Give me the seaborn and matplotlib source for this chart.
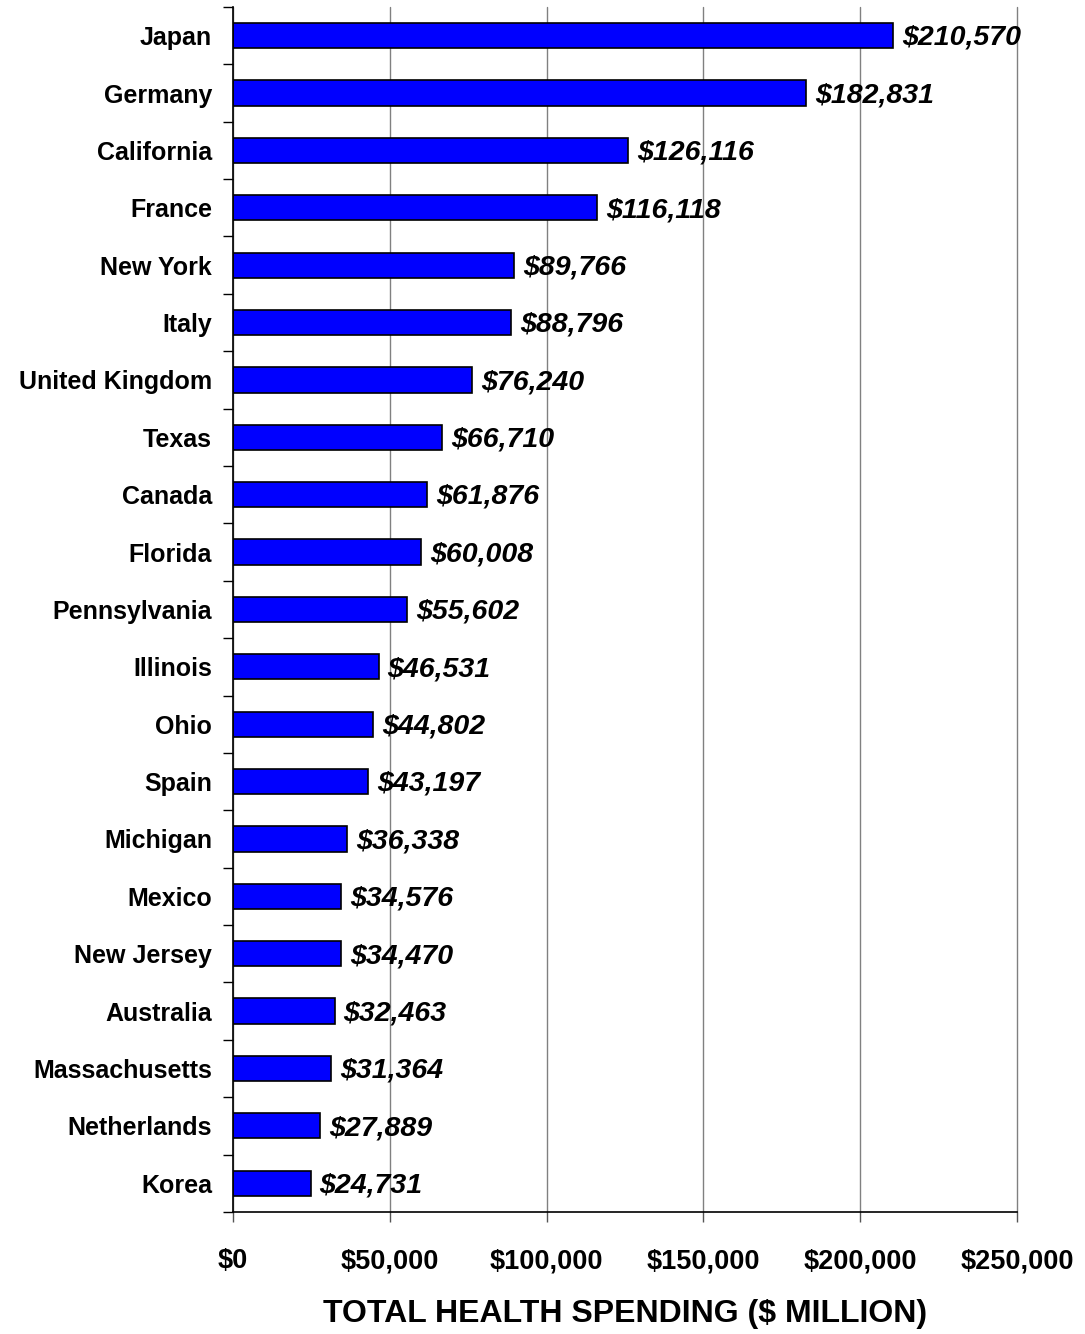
import matplotlib
matplotlib.use("Agg")
import matplotlib.pyplot as plt
import seaborn as sns
import pandas as pd
import numpy as np
from matplotlib.ticker import FixedLocator

categories = ["Japan", "Germany", "California", "France", "New York", "Italy",
              "United Kingdom", "Texas", "Canada", "Florida", "Pennsylvania",
              "Illinois", "Ohio", "Spain", "Michigan", "Mexico", "New Jersey",
              "Australia", "Massachusetts", "Netherlands", "Korea"]
values = [210570, 182831, 126116, 116118, 89766, 88796, 76240, 66710, 61876,
          60008, 55602, 46531, 44802, 43197, 36338, 34576, 34470, 32463,
          31364, 27889, 24731]
xticks = [0, 50000, 100000, 150000, 200000, 250000]
xtick_labels = ["$0", "$50,000", "$100,000", "$150,000", "$200,000", "$250,000"]

df = pd.DataFrame({"region": categories, "spending": values})

sns.set_theme(style="white")
plt.rcParams['font.family'] = ['Liberation Sans', 'DejaVu Sans']
plt.rcParams['text.color'] = 'black'
plt.rcParams['xtick.color'] = 'black'
plt.rcParams['ytick.color'] = 'black'
plt.rcParams['axes.labelcolor'] = 'black'

fig = plt.figure(figsize=(10.85, 13.34), dpi=100)
ax = fig.add_axes([0.2147, 0.0915, 0.9373 - 0.2147, 0.9948 - 0.0915])

sns.barplot(data=df, y="region", x="spending", order=categories, orient="h",
            color="#0000FF", edgecolor="black", linewidth=1.2, width=0.44,
            saturation=1, ax=ax)

for p, v in zip(ax.patches, values):
    ax.text(p.get_width() + 2800, p.get_y() + p.get_height() / 2 + 0.04,
            f"${v:,}", va="center", ha="left", fontsize=20.5,
            fontweight="bold", fontstyle="italic", color="black")

ax.set_xlim(0, 250000)
ax.set_ylim(len(categories) - 0.5, -0.5)
ax.set_xticks(xticks)
ax.set_xticklabels(xtick_labels, fontsize=19.5, fontweight="bold")
ax.tick_params(axis="x", which="major", direction="out", length=7, width=1,
               color="#555555", pad=19, bottom=True, labelcolor="black")
ax.grid(axis="x", color="#808080", linewidth=1)
for gl in ax.get_xgridlines():
    gl.set_clip_on(False)
ax.grid(axis="y", visible=False)
ax.set_axisbelow(True)

ax.tick_params(axis="y", which="major", length=0, pad=15, labelsize=18,
               labelcolor="black")
for lab in ax.get_yticklabels():
    lab.set_fontweight("bold")
ax.yaxis.set_minor_locator(FixedLocator(np.arange(-0.5, len(categories), 1.0)))
ax.tick_params(axis="y", which="minor", direction="out", length=7, width=1,
               color="black", left=True)

ax.set_ylabel("")
ax.set_xlabel("TOTAL HEALTH SPENDING ($ MILLION)", fontsize=23,
              fontweight="bold", labelpad=18, color="black")

for s in ["top", "right"]:
    ax.spines[s].set_visible(False)
ax.spines["left"].set_color("black")
ax.spines["left"].set_linewidth(1.2)
ax.spines["bottom"].set_color("black")
ax.spines["bottom"].set_linewidth(1.2)

fig.savefig("out.png", dpi=100)
